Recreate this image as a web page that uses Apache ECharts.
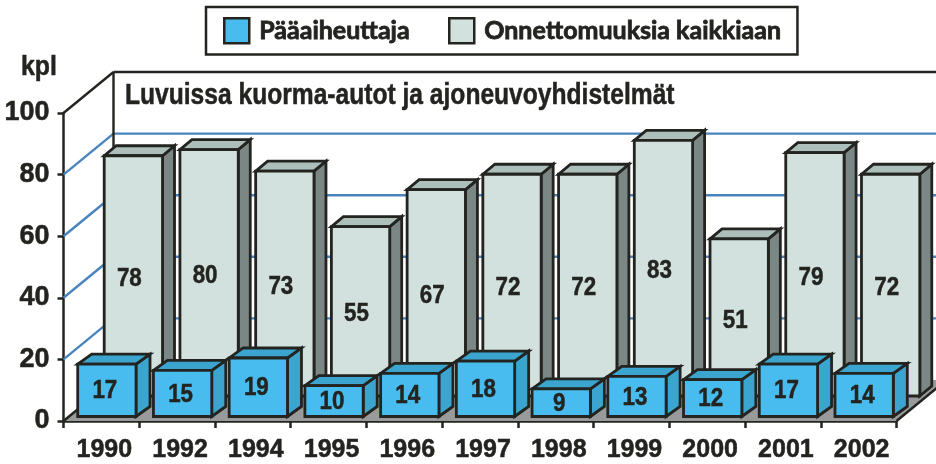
<!DOCTYPE html>
<html><head><meta charset="utf-8">
<style>html,body{margin:0;padding:0;background:#fff}#c{width:936px;height:464px}</style>
<script src="https://cdn.jsdelivr.net/npm/echarts@6/dist/echarts.min.js"></script>
</head><body><div id="c"></div>
<script>
const categories = ['1990','1992','1994','1995','1996','1997','1998','1999','2000','2001','2002'];
const paaaiheuttaja = [17,15,19,10,14,18,9,13,12,17,14];
const kaikkiaan = [78,80,73,55,67,72,72,83,51,79,72];
const yTicks = [0,20,40,60,80,100];
const FONT = '"Liberation Sans",Arial,sans-serif';
const INK = '#232420';
const DEPTH_X = 50, DEPTH_Y = 41;

function poly(points, fill, z2) {
  return {type:'polygon', z2, shape:{points}, style:{fill, stroke:INK, lineWidth:2.8, lineJoin:'miter'}};
}
function bar3d(o) {
  return function (params, api) {
    const i = api.value(0), v = api.value(1);
    const base = api.coord([i, 0]), top = api.coord([i, v]);
    const w = api.size([1, 0])[0] * 0.77;
    const l = base[0] + o.sx - w / 2, r = l + w;
    const b = base[1] - o.sy, t = top[1] - o.sy;
    return {type:'group', children:[
      poly([[r,b],[r+o.dx,b-o.dy],[r+o.dx,t-o.dy],[r,t]], o.side, 1),
      poly([[l,t],[r,t],[r+o.dx,t-o.dy],[l+o.dx,t-o.dy]], o.top, 2),
      poly([[l,t],[r,t],[r,b],[l,b]], o.front, 3),
      {type:'text', z2:4, x:(l+r)/2+o.lx, y:(t+b)/2+o.ly, scaleX:0.86,
        style:{text:String(v), x:0, y:0, fill:INK, stroke:INK, lineWidth:0.5,
        font:'bold 26px '+FONT, textAlign:'center', textVerticalAlign:'middle'}}
    ]};
  };
}
function wall(params, api) {
  const size = api.size([1,0])[0];
  const x0 = api.coord([0,0])[0] - size/2;
  const x1 = x0 + size * categories.length;
  const y0 = api.coord([0,0])[1];
  const kids = [];
  kids.push({type:'polygon', shape:{points:[[x0,y0],[x1,y0],[x1+DEPTH_X,y0-DEPTH_Y],[x0+DEPTH_X,y0-DEPTH_Y]]},
    style:{fill:'#989a9c', stroke:null}});
  kids.push({type:'line', shape:{x1:x1,y1:y0,x2:x1+DEPTH_X,y2:y0-DEPTH_Y}, style:{stroke:INK,lineWidth:2.5}});
  kids.push({type:'line', shape:{x1:x0,y1:y0,x2:x0+DEPTH_X,y2:y0-DEPTH_Y}, style:{stroke:INK,lineWidth:2.5}});
  yTicks.forEach(function (t) {
    if (t === 0) return;
    const y = api.coord([0,t])[1];
    const c = t === 100 ? INK : '#4a84bf';
    kids.push({type:'line', shape:{x1:x0,y1:y,x2:x0+DEPTH_X,y2:y-DEPTH_Y}, style:{stroke:c,lineWidth:2.4}});
    kids.push({type:'line', shape:{x1:x0+DEPTH_X,y1:y-DEPTH_Y,x2:x1+DEPTH_X,y2:y-DEPTH_Y}, style:{stroke:c,lineWidth:2.4}});
  });
  const yTop = api.coord([0,100])[1];
  kids.push({type:'line', shape:{x1:x0+DEPTH_X,y1:yTop-DEPTH_Y,x2:x0+DEPTH_X,y2:y0-DEPTH_Y}, style:{stroke:INK,lineWidth:2.4}});
  return {type:'group', children:kids};
}
const chart = echarts.init(document.getElementById('c'), null, {renderer:'canvas'});
chart.setOption({
  animation:false,
  backgroundColor:'#fff',
  graphic:[
    {type:'text', x:125, y:96, scaleX:0.82, z:10, style:{text:'Luvuissa kuorma-autot ja ajoneuvoyhdistelmät',
      x:0,y:0,fill:INK,stroke:INK,lineWidth:0.5,font:'bold 30px '+FONT,textAlign:'left',textVerticalAlign:'middle'}},
    {type:'text', x:21, y:68, scaleX:0.92, z:10, style:{text:'kpl',
      x:0,y:0,fill:INK,stroke:INK,lineWidth:0.5,font:'bold 27px '+FONT,textAlign:'left',textVerticalAlign:'middle'}}
  ],
  legend:{
    left:206, top:7, orient:'horizontal', padding:[10,16,10,17],
    itemWidth:25, itemHeight:25, itemGap:38,
    backgroundColor:'#fff', borderColor:INK, borderWidth:2.5,
    textStyle:{fontFamily:'Lato',fontWeight:'bold',fontSize:25,color:INK,padding:[0,0,0,5],
      textBorderColor:INK,textBorderWidth:0.8},
    selectedMode:false,
    data:[
      {name:'Pääaiheuttaja',icon:'rect',itemStyle:{color:'#48bcee',borderColor:INK,borderWidth:2.5}},
      {name:'Onnettomuuksia kaikkiaan',icon:'rect',itemStyle:{color:'#d3e1de',borderColor:INK,borderWidth:2.5}}
    ]
  },
  grid:{left:63.5, right:39.5, top:113, bottom:43},
  xAxis:{type:'category', data:categories,
    axisLine:{lineStyle:{color:INK,width:2.5}},
    axisTick:{show:true,length:7,lineStyle:{color:INK,width:2.5}},
    axisLabel:{interval:0,fontFamily:FONT,fontWeight:'bold',fontSize:25,color:INK,margin:17,padding:[0,0,0,6],
      textBorderColor:INK,textBorderWidth:0.5}
  },
  yAxis:{type:'value', min:0, max:100, interval:20,
    splitLine:{show:false},
    axisLine:{show:true,lineStyle:{color:INK,width:2.5}},
    axisTick:{show:true,length:6,lineStyle:{color:INK,width:2.5}},
    axisLabel:{fontFamily:FONT,fontWeight:'bold',fontSize:27,color:INK,margin:14,
      textBorderColor:INK,textBorderWidth:0.5}
  },
  series:[
    {type:'custom', name:'wall', silent:true, z:1, renderItem:wall, data:[[0,0]], encode:{x:0,y:1}},
    {type:'custom', name:'Onnettomuuksia kaikkiaan', z:2, silent:true,
      itemStyle:{color:'#d3e1de'},
      renderItem:bar3d({sx:32,sy:25,dx:12,dy:10,front:'#d3e1de',top:'#adbfbb',side:'#7a8785',lx:-4,ly:3}),
      data:categories.map((c,i)=>[i,kaikkiaan[i]]), encode:{x:0,y:1}},
    {type:'custom', name:'Pääaiheuttaja', z:3, silent:true,
      itemStyle:{color:'#48bcee'},
      renderItem:bar3d({sx:5.5,sy:4.5,dx:14,dy:10,front:'#48bcee',top:'#3ba4cf',side:'#3ba4cf',lx:-2,ly:1}),
      data:categories.map((c,i)=>[i,paaaiheuttaja[i]]), encode:{x:0,y:1}}
  ]
});
</script></body></html>
